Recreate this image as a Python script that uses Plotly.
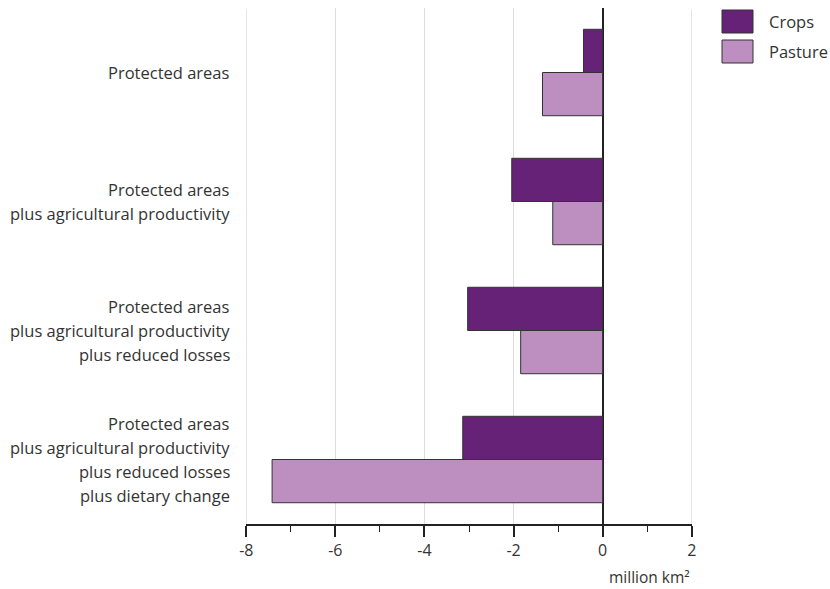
import plotly.graph_objects as go

categories = [
    "Protected areas",
    "Protected areas<br>plus agricultural productivity",
    "Protected areas<br>plus agricultural productivity<br>plus reduced losses",
    "Protected areas<br>plus agricultural productivity<br>plus reduced losses<br>plus dietary change",
]
crops = [-0.43, -2.04, -3.03, -3.14]
pasture = [-1.35, -1.12, -1.84, -7.42]
tick_vals = [-8, -6, -4, -2, 0, 2]
tick_text = ["-8", "-6", "-4", "-2", "0", "2"]
series_names = ["Crops", "Pasture"]
colors = ["#652277", "#BC8FC0"]

FONT = "Open Sans"
fig = go.Figure()
for name, vals, col in zip(series_names, [crops, pasture], colors):
    fig.add_trace(go.Bar(
        y=categories, x=vals, name=name, orientation="h",
        marker=dict(color=col, line=dict(color="#333333", width=1)),
        showlegend=False,
    ))

fig.update_layout(
    width=830, height=589,
    margin=dict(l=246, r=138, t=8, b=65),
    plot_bgcolor="white", paper_bgcolor="white",
    barmode="group", bargap=0.33, bargroupgap=0,
    font=dict(family=FONT, size=16, color="#333333"),
    xaxis=dict(
        range=[-8.006, 2.006], tickvals=tick_vals, ticktext=tick_text,
        showgrid=True, gridcolor="#dddddd", gridwidth=1,
        zeroline=True, zerolinecolor="#222222", zerolinewidth=1.5,
        showline=True, linecolor="#222222", linewidth=1.5,
        ticks="outside", ticklen=11, tickcolor="#222222", tickwidth=1.5,
        minor=dict(dtick=1, ticks="outside", ticklen=6, tickcolor="#222222", tickwidth=1, showgrid=False),
        tickfont=dict(size=16, color="#333333"),
    ),
    yaxis=dict(
        autorange="reversed", showgrid=False, zeroline=False, showline=False,
        ticks="", showticklabels=False,
    ),
)

# edge gridlines (plotly suppresses those at the range ends)
for xv in (tick_vals[0], tick_vals[-1]):
    fig.add_shape(type="line", xref="x", yref="paper", x0=xv, x1=xv, y0=0, y1=0.997,
                  line=dict(color="#dddddd", width=1), layer="below")

# category labels, one annotation per line for the reference's looser line spacing
LINE = 24.3
for cat in categories:
    lines = cat.split("<br>")
    n = len(lines)
    for i, ln in enumerate(lines):
        fig.add_annotation(text=ln, xref="paper", yref="y", x=-14 / 446, y=cat,
                           xanchor="right", yanchor="middle", showarrow=False,
                           yshift=((n - 1) / 2 - i) * LINE,
                           font=dict(size=16.5, color="#333333"))

fig.add_annotation(text="million km²", xref="paper", yref="paper", x=1.0, y=-0.103,
                   xanchor="right", yanchor="middle", showarrow=False,
                   font=dict(size=15.5, color="#333333"))

# legend
leg_y = [22, 52]
for name, col, yc in zip(series_names, colors, leg_y):
    fig.add_shape(type="rect", xref="paper", yref="paper",
                  x0=(722 - 246) / 446, x1=(753 - 246) / 446,
                  y0=(524.5 - (yc + 11.5)) / 516, y1=(524.5 - (yc - 11.5)) / 516,
                  fillcolor=col, line=dict(color="#333333", width=1))
    fig.add_annotation(text=name, xref="paper", yref="paper",
                       x=(767 - 246) / 446, y=(524.5 - yc) / 516,
                       xanchor="left", yanchor="middle", showarrow=False,
                       font=dict(size=16.5, color="#333333"))

fig.write_html("out.html", config={"displayModeBar": False},
               post_script="document.body.style.margin='0';")
